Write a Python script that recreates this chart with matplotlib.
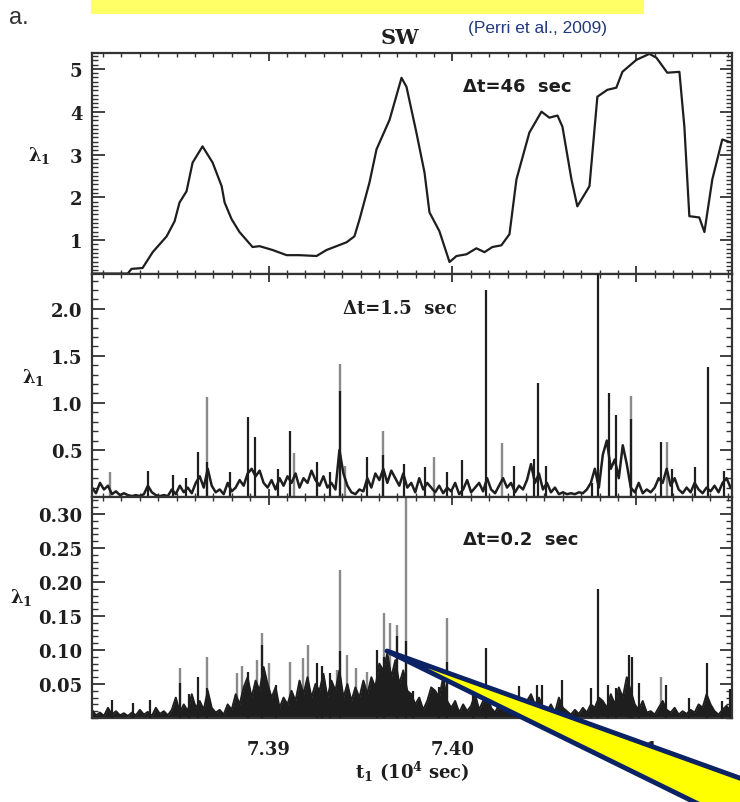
import numpy as np
import matplotlib.pyplot as plt
from matplotlib.patches import Polygon, Rectangle
from matplotlib.ticker import MultipleLocator

plt.rcParams['font.family'] = 'DejaVu Serif'
plt.rcParams['font.weight'] = 'bold'
plt.rcParams['mathtext.fontset'] = 'dejavuserif'
plt.rcParams['mathtext.default'] = 'bf'

W, H = 740, 803


def fx(px):
    return px / W


def fy(py):
    return 1 - py / H


# ---- data: t1 in 10^4 sec, lambda_1 ----
t_range = (7.3804, 7.4152)
xticks = [7.39, 7.40, 7.41]
xticklabels = ['7.39', '7.40', '7.41']

# dt = 46 sec
t46 = [7.3804, 7.38234, 7.38255, 7.38315, 7.38370, 7.38446, 7.38489, 7.38516,
       7.38554, 7.38587, 7.38641, 7.38696, 7.38745, 7.38761, 7.38799, 7.38842,
       7.38913, 7.38951, 7.39022, 7.39098, 7.39168, 7.39261, 7.39315, 7.39424,
       7.39467, 7.39495, 7.39549, 7.39587, 7.39658, 7.39723, 7.39750, 7.39804,
       7.39848, 7.39875, 7.39929, 7.39984, 7.40022, 7.40076, 7.40130, 7.40174,
       7.40217, 7.40266, 7.40310, 7.40348, 7.40418, 7.40484, 7.40527, 7.40571,
       7.40598, 7.40647, 7.40679, 7.40745, 7.40788, 7.40842, 7.40891, 7.40924,
       7.41000, 7.41071, 7.41109, 7.41168, 7.41234, 7.41261, 7.41288, 7.41342,
       7.41370, 7.41413, 7.41467, 7.41516]
lam46 = [0.22, 0.22, 0.33, 0.35, 0.72, 1.09, 1.44, 1.88,
         2.14, 2.81, 3.19, 2.81, 2.26, 1.88, 1.49, 1.19,
         0.84, 0.86, 0.77, 0.65, 0.65, 0.63, 0.77, 0.95,
         1.09, 1.49, 2.35, 3.12, 3.81, 4.79, 4.58, 3.51,
         2.58, 1.65, 1.21, 0.49, 0.63, 0.67, 0.81, 0.72,
         0.84, 0.88, 1.14, 2.42, 3.51, 4.00, 3.86, 3.91,
         3.65, 2.42, 1.79, 2.26, 4.35, 4.51, 4.56, 4.93,
         5.21, 5.35, 5.26, 4.91, 4.93, 3.65, 1.56, 1.53,
         1.19, 2.42, 3.35, 3.28]
yticks46 = [1, 2, 3, 4, 5]

# dt = 1.5 sec: background trace on a regular time grid, plus peaks
t15_first, t15_step = 7.3804, 0.000217
lam15 = [0.10, 0.04, 0.15, 0.08, 0.12, 0.03, 0.06, 0.02, 0.04, 0.02,
         0.01, 0.02, 0.01, 0.03, 0.12, 0.05, 0.02, 0.01, 0.02, 0.01,
         0.08, 0.03, 0.12, 0.05, 0.10, 0.04, 0.15, 0.22, 0.10, 0.30,
         0.12, 0.05, 0.08, 0.03, 0.15, 0.06, 0.10, 0.18, 0.12, 0.25,
         0.30, 0.22, 0.28, 0.15, 0.10, 0.18, 0.08, 0.20, 0.12, 0.22,
         0.15, 0.25, 0.10, 0.20, 0.15, 0.28, 0.18, 0.12, 0.22, 0.10,
         0.15, 0.08, 0.50, 0.25, 0.12, 0.05, 0.03, 0.08, 0.06, 0.20,
         0.10, 0.25, 0.18, 0.30, 0.15, 0.28, 0.20, 0.12, 0.25, 0.10,
         0.15, 0.05, 0.20, 0.08, 0.15, 0.10, 0.05, 0.12, 0.04, 0.10,
         0.06, 0.15, 0.03, 0.08, 0.18, 0.05, 0.10, 0.15, 0.06, 0.20,
         0.08, 0.04, 0.12, 0.20, 0.10, 0.15, 0.05, 0.12, 0.08, 0.18,
         0.35, 0.15, 0.25, 0.08, 0.15, 0.05, 0.10, 0.03, 0.05, 0.03,
         0.04, 0.03, 0.05, 0.04, 0.08, 0.15, 0.30, 0.10, 0.45, 0.60,
         0.30, 0.40, 0.20, 0.55, 0.35, 0.10, 0.05, 0.15, 0.04, 0.08,
         0.05, 0.10, 0.20, 0.15, 0.30, 0.12, 0.20, 0.08, 0.04, 0.10,
         0.05, 0.15, 0.08, 0.04, 0.10, 0.06, 0.12, 0.05, 0.15, 0.20, 0.10]
peak15_t = [7.38342, 7.38478, 7.38549, 7.38614, 7.38663, 7.38788, 7.38886,
            7.38929, 7.39049, 7.39114, 7.39261, 7.39332, 7.39391, 7.39538,
            7.39620, 7.39739, 7.39848, 7.39973, 7.40054, 7.40185, 7.40337,
            7.40446, 7.40467, 7.40511, 7.40761, 7.40793, 7.40853, 7.40891,
            7.40973, 7.41136, 7.41196, 7.41321, 7.41391, 7.41478]
peak15_v = [0.28, 0.23, 0.20, 0.48, 0.37, 0.27, 0.85,
            0.64, 0.30, 0.70, 0.37, 0.27, 1.13, 0.42,
            0.45, 0.35, 0.32, 0.27, 0.39, 2.20, 0.33,
            0.40, 1.21, 0.33, 0.15, 2.37, 1.10, 0.87,
            0.83, 0.58, 0.30, 0.32, 1.38, 0.28]
grey15_t = [7.38136, 7.38663, 7.39141, 7.39391, 7.39413, 7.39620, 7.39902,
            7.40272, 7.40973, 7.41168]
grey15_v = [0.27, 1.06, 0.47, 1.41, 0.33, 0.70, 0.42, 0.57, 1.07, 0.58]
yticks15 = [0.5, 1.0, 1.5, 2.0]

# dt = 0.2 sec
t02_first, t02_step = 7.3804, 0.000217
lam02 = [0.012, 0.004, 0.008, 0.003, 0.015, 0.005, 0.010, 0.004, 0.007, 0.003,
         0.008, 0.004, 0.012, 0.005, 0.009, 0.003, 0.015, 0.006, 0.010, 0.004,
         0.012, 0.030, 0.008, 0.020, 0.010, 0.035, 0.015, 0.025, 0.012, 0.040,
         0.015, 0.008, 0.012, 0.005, 0.020, 0.012, 0.035, 0.020, 0.045, 0.060,
         0.030, 0.055, 0.040, 0.075, 0.050, 0.030, 0.045, 0.015, 0.030, 0.020,
         0.040, 0.025, 0.055, 0.035, 0.060, 0.030, 0.050, 0.040, 0.065, 0.030,
         0.055, 0.040, 0.070, 0.030, 0.050, 0.025, 0.045, 0.030, 0.055, 0.035,
         0.060, 0.045, 0.080, 0.070, 0.095, 0.060, 0.085, 0.050, 0.070, 0.040,
         0.035, 0.020, 0.030, 0.012, 0.025, 0.045, 0.040, 0.030, 0.060, 0.025,
         0.015, 0.025, 0.008, 0.020, 0.010, 0.018, 0.035, 0.012, 0.025, 0.040,
         0.015, 0.008, 0.020, 0.010, 0.015, 0.008, 0.030, 0.020, 0.012, 0.025,
         0.035, 0.020, 0.030, 0.015, 0.010, 0.020, 0.008, 0.030, 0.015, 0.010,
         0.005, 0.012, 0.006, 0.015, 0.008, 0.020, 0.015, 0.030, 0.025, 0.015,
         0.035, 0.020, 0.045, 0.030, 0.060, 0.040, 0.020, 0.012, 0.025, 0.008,
         0.010, 0.005, 0.015, 0.025, 0.012, 0.008, 0.015, 0.005, 0.010, 0.006,
         0.012, 0.008, 0.020, 0.015, 0.035, 0.020, 0.010, 0.005, 0.012, 0.018, 0.010]
peak02_t = [7.38147, 7.38261, 7.38353, 7.38516, 7.38565, 7.38614, 7.38663,
            7.38886, 7.38967, 7.39043, 7.39261, 7.39293, 7.39332, 7.39391,
            7.39592, 7.39630, 7.39696, 7.39745, 7.39783, 7.39929, 7.39973,
            7.40109, 7.40185, 7.40364, 7.40462, 7.40489, 7.40598, 7.40755,
            7.40793, 7.40848, 7.40891, 7.40962, 7.40978, 7.41016, 7.41163,
            7.41288, 7.41386, 7.41467, 7.41511]
peak02_v = [0.027, 0.022, 0.027, 0.052, 0.035, 0.061, 0.044,
            0.068, 0.108, 0.049, 0.081, 0.076, 0.066, 0.098,
            0.100, 0.090, 0.120, 0.113, 0.040, 0.046, 0.083,
            0.034, 0.103, 0.047, 0.049, 0.049, 0.056, 0.044,
            0.189, 0.049, 0.044, 0.093, 0.090, 0.051, 0.049,
            0.030, 0.081, 0.025, 0.042]
grey02_t = [7.38516, 7.38663, 7.38826, 7.38853, 7.38935, 7.38967, 7.39005,
            7.39114, 7.39185, 7.39212, 7.39370, 7.39391, 7.39424, 7.39478,
            7.39533, 7.39630, 7.39658, 7.39696, 7.39745, 7.39973, 7.41136]
grey02_v = [0.073, 0.090, 0.066, 0.076, 0.086, 0.125, 0.081,
            0.083, 0.088, 0.108, 0.071, 0.218, 0.093, 0.073,
            0.068, 0.154, 0.140, 0.137, 0.330, 0.147, 0.061]
yticks02 = [0.05, 0.10, 0.15, 0.20, 0.25, 0.30]
yticklabels02 = ['0.05', '0.10', '0.15', '0.20', '0.25', '0.30']

ink = '#1e1e1e'
grey = '#8a8a8a'

fig = plt.figure(figsize=(W / 100, H / 100), dpi=100)

left, width = fx(92), (732 - 92) / W
ax1 = fig.add_axes([left, fy(275), width, 221 / H])
ax2 = fig.add_axes([left, fy(498), width, 223 / H])
ax3 = fig.add_axes([left, fy(719), width, 221 / H])

# top panel
ax1.plot(t46, lam46, color=ink, lw=1.6, solid_joinstyle='round')
ax1.set_ylim(0.21, 5.37)
ax1.set_yticks(yticks46)
ax1.yaxis.set_minor_locator(MultipleLocator(0.1))

# middle panel
t15 = t15_first + t15_step * np.arange(len(lam15))
ax2.vlines(grey15_t, 0, grey15_v, color=grey, lw=1.7, zorder=1)
ax2.plot(t15, lam15, color=ink, lw=1.8, zorder=2)
ax2.vlines(peak15_t, 0, peak15_v, color=ink, lw=1.6, zorder=3)
ax2.set_ylim(0, 2.37)
ax2.set_yticks(yticks15)
ax2.yaxis.set_minor_locator(MultipleLocator(0.1))

# bottom panel
t02 = t02_first + t02_step * np.arange(len(lam02))
ax3.vlines(grey02_t, 0, grey02_v, color=grey, lw=1.7, zorder=1)
ax3.fill_between(t02, 0, lam02, color=ink, lw=0, zorder=2)
ax3.plot(t02, lam02, color=ink, lw=1.4, zorder=2)
ax3.vlines(peak02_t, 0, peak02_v, color=ink, lw=1.6, zorder=3)
ax3.set_ylim(0, 0.325)
ax3.set_yticks(yticks02)
ax3.set_yticklabels(yticklabels02)
ax3.yaxis.set_minor_locator(MultipleLocator(0.01))

for ax in (ax1, ax2, ax3):
    ax.set_xlim(*t_range)
    ax.set_xticks(xticks)
    ax.xaxis.set_minor_locator(MultipleLocator(0.001))
    for s in ax.spines.values():
        s.set_linewidth(1.6)
        s.set_color('#333333')
    ax.tick_params(which='both', direction='in', top=True, right=True,
                   color='#333333', labelcolor=ink, labelsize=13)
    ax.tick_params(axis='y', which='major', length=9, width=1.3, pad=7)
    ax.tick_params(axis='y', which='minor', length=4.5, width=1.0)
    ax.tick_params(axis='x', which='major', length=6, width=1.3, pad=16)
    ax.tick_params(axis='x', which='minor', length=3, width=1.0)

ax1.tick_params(labelbottom=False)
ax2.tick_params(labelbottom=False)
ax3.set_xticklabels(xticklabels)

# panel texts
fig.text(fx(463), fy(87), '\u0394t=46  sec', family='DejaVu Sans', weight='bold',
         fontsize=13, color=ink, va='center')
fig.text(fx(343), fy(309), '\u0394t=1.5  sec', weight='bold', fontsize=13,
         color=ink, va='center')
fig.text(fx(463), fy(540), '\u0394t=0.2  sec', family='DejaVu Sans', weight='bold',
         fontsize=13, color=ink, va='center')

for px, py in [(39, 155), (33, 378), (21, 598)]:
    fig.text(fx(px), fy(py), r'$\lambda_1$', fontsize=13, color=ink,
             ha='center', va='center')

fig.text(fx(412), fy(772), r't$_1$ (10$^4$ sec)', fontsize=13, color=ink,
         ha='center', va='center')
fig.text(fx(400), fy(38), 'SW', fontsize=15, color=ink, ha='center', va='center')

# slide decorations
fig.add_artist(Rectangle((fx(91), fy(15)), (644 - 91) / W, 20 / H,
                         transform=fig.transFigure, facecolor='#ffff66',
                         edgecolor='none'))
fig.text(fx(19), fy(18), 'a.', family='Liberation Sans', weight='normal',
         fontsize=17, color='#333333', ha='center', va='center')
fig.text(fx(538), fy(28), '(Perri et al., 2009)', family='Liberation Sans',
         weight='normal', fontsize=12.5, color='#22397f', ha='center', va='center')

wedge = [(387, 652), (820, 808), (820, 850), (790, 850)]
fig.add_artist(Polygon([(fx(x), fy(y)) for x, y in wedge], closed=True,
                       transform=fig.transFigure, facecolor='#ffff00',
                       edgecolor='#0b2265', lw=3.5, joinstyle='round'))

fig.savefig('out.png', dpi=100)
